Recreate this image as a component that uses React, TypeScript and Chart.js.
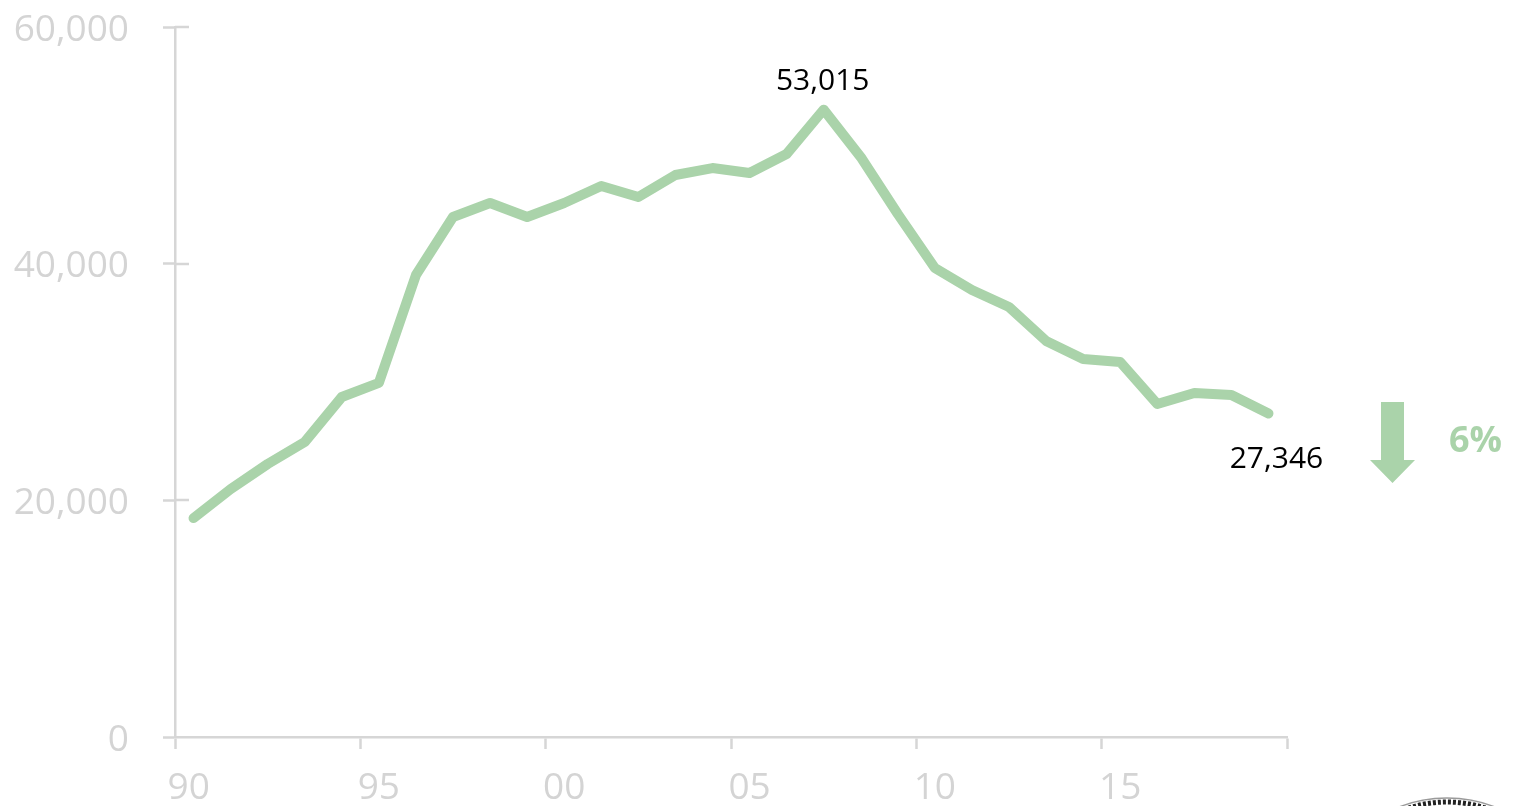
import React, { useEffect, useRef } from "react";
import { Chart, registerables } from "chart.js";

Chart.register(...registerables);

const years = ["90","91","92","93","94","95","96","97","98","99","00","01","02","03","04","05","06","07","08","09","10","11","12","13","14","15","16","17","18","19"];
const values = [18500,20950,23070,24930,28730,29920,39040,43940,45130,43940,45130,46560,45630,47490,48080,47660,49270,53015,49010,44200,39630,37780,36340,33470,31940,31690,28140,29070,28900,27346];
const yTicks = [0, 20000, 40000, 60000];
const peakLabel = "53,015";
const lastLabel = "27,346";
const changeLabel = "6%";

const GREEN = "#aad3aa";
const AXIS = "#d6d6d6";
const TICK_TEXT = "#d4d4d4";
const FONT = '"Open Sans"';

const overlay = {
  id: "overlay",
  afterDatasetsDraw(chart: any) {
    const { ctx, scales: { x, y } } = chart;
    ctx.save();
    // inner halves of the y ticks
    ctx.strokeStyle = AXIS;
    ctx.lineWidth = 2.5;
    ctx.beginPath();
    for (const t of yTicks.slice(1)) {
      const py = Math.round(y.getPixelForValue(t));
      ctx.moveTo(x.left, py);
      ctx.lineTo(x.left + 14, py);
    }
    ctx.stroke();

    // value labels
    ctx.fillStyle = "#000";
    ctx.font = `30px ${FONT}`;
    ctx.textAlign = "center";
    ctx.textBaseline = "middle";
    const pi = values.indexOf(53015);
    ctx.fillText(peakLabel, x.getPixelForValue(pi) - 1, y.getPixelForValue(values[pi]) - 28);
    const li = values.length - 1;
    ctx.fillText(lastLabel, x.getPixelForValue(li) + 8, y.getPixelForValue(values[li]) + 46);

    // down arrow
    ctx.fillStyle = GREEN;
    ctx.beginPath();
    ctx.moveTo(1381, 402);
    ctx.lineTo(1404, 402);
    ctx.lineTo(1404, 460);
    ctx.lineTo(1415, 460);
    ctx.lineTo(1392.5, 483);
    ctx.lineTo(1370, 460);
    ctx.lineTo(1381, 460);
    ctx.closePath();
    ctx.fill();

    ctx.font = `bold 36px ${FONT}`;
    ctx.textAlign = "left";
    ctx.fillText(changeLabel, 1449, 442);

    // seal, cut off by the page edge
    ctx.strokeStyle = "#9a9a9a";
    ctx.lineWidth = 1.5;
    ctx.beginPath();
    ctx.arc(1447, 928, 130, Math.PI * 1.3, Math.PI * 1.7);
    ctx.stroke();
    ctx.strokeStyle = "#222";
    ctx.lineWidth = 5;
    ctx.setLineDash([3, 2]);
    ctx.beginPath();
    ctx.arc(1447, 928, 126, Math.PI * 1.3, Math.PI * 1.7);
    ctx.stroke();
    ctx.restore();
  },
};

export default function App() {
  const ref = useRef<HTMLCanvasElement>(null);
  useEffect(() => {
    const chart = new Chart(ref.current!, {
      type: "line",
      data: {
        labels: years,
        datasets: [{
          data: values,
          borderColor: GREEN,
          borderWidth: 10,
          borderCapStyle: "round",
          borderJoinStyle: "round",
          pointRadius: 0,
          tension: 0,
          fill: false,
        }],
      },
      options: {
        responsive: false,
        animation: false,
        layout: { padding: { left: 0, right: 230, top: 27, bottom: 0 } },
        plugins: { legend: { display: false }, tooltip: { enabled: false }, title: { display: false } },
        scales: {
          x: {
            type: "category",
            offset: true,
            border: { color: AXIS, width: 2.5 },
            grid: {
              offset: true,
              drawOnChartArea: false,
              tickLength: 12,
              tickWidth: 2.5,
              tickColor: (c: any) => (c.index === undefined || c.index % 5 === 0 ? AXIS : "transparent"),
            },
            ticks: {
              autoSkip: false,
              maxRotation: 0,
              padding: 17,
              color: TICK_TEXT,
              font: { family: FONT, size: 37 },
              callback: (_v: any, i: number) => (i === 0 ? years[i] + " " : i % 5 === 0 ? years[i] : ""),
            },
            afterFit: (s: any) => { s.height = 69; s.paddingLeft = 0; s.paddingRight = 0; },
          },
          y: {
            min: 0,
            max: 60000,
            border: { color: AXIS, width: 2.5 },
            grid: { drawOnChartArea: false, tickLength: 12, tickWidth: 2.5, tickColor: AXIS },
            afterBuildTicks: (s: any) => { s.ticks = yTicks.map((value) => ({ value })); },
            ticks: {
              padding: 34,
              labelOffset: 3,
              color: TICK_TEXT,
              font: { family: FONT, size: 37 },
              callback: (v: any) => Number(v).toLocaleString("en-US"),
            },
            afterFit: (s: any) => { s.width = 175; s.paddingTop = 0; s.paddingBottom = 0; },
          },
        },
      },
      plugins: [overlay],
    } as any);
    return () => chart.destroy();
  }, []);
  return (
    <div style={{ position: "fixed", left: 0, top: 0, width: 1517, height: 806, background: "#fff", overflow: "hidden" }}>
      <canvas ref={ref} width={1517} height={806} style={{ display: "block" }} />
    </div>
  );
}
